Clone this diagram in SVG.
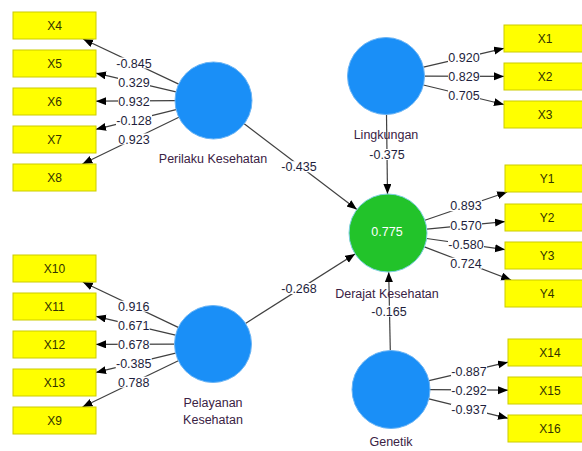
<svg xmlns="http://www.w3.org/2000/svg" width="582" height="451" viewBox="0 0 582 451">
<defs>
<marker id="ah" markerUnits="userSpaceOnUse" markerWidth="11" markerHeight="9" refX="10" refY="4" orient="auto">
<path d="M0,0 L10,4 L0,8 Z" fill="#000"/>
</marker>
<style>
.ln{stroke:#404040;stroke-width:1.2;fill:none;marker-end:url(#ah)}
.box{fill:#ffff00;stroke:#cccc00;stroke-width:1}
.bt{font-family:"Liberation Sans",Arial,sans-serif;font-size:12px;fill:#333300;text-anchor:middle}
.lat{fill:#1a8ff7;stroke:#6ab4f5;stroke-width:1}
.end{fill:#22c32a;stroke:#7ccfe0;stroke-width:1}
.lbl{font-family:"Liberation Sans",Arial,sans-serif;font-size:12.5px;fill:#3a2244;text-anchor:middle}
.num{font-family:"Liberation Sans",Arial,sans-serif;font-size:12.5px;fill:#1e1e3c;text-anchor:middle}
.bg{fill:#ffffff}
</style>
</defs>
<rect width="582" height="451" fill="#ffffff"/>

<g id="connectors">
<line class="ln" x1="178.7" y1="84.1" x2="83.1" y2="39"/>
<line class="ln" x1="176.0" y1="91.8" x2="96" y2="73.2"/>
<line class="ln" x1="175" y1="100.7" x2="96" y2="101.2"/>
<line class="ln" x1="176.1" y1="109.7" x2="96" y2="129.3"/>
<line class="ln" x1="178.9" y1="117.3" x2="82.4" y2="164"/>
<line class="ln" x1="178.2" y1="327.4" x2="82.8" y2="282"/>
<line class="ln" x1="175.5" y1="335.1" x2="96" y2="316.3"/>
<line class="ln" x1="174.5" y1="344.1" x2="96" y2="344.4"/>
<line class="ln" x1="175.6" y1="353.1" x2="96" y2="372.4"/>
<line class="ln" x1="178.3" y1="360.7" x2="82.5" y2="407"/>
<line class="ln" x1="423.5" y1="67.2" x2="504" y2="48.3"/>
<line class="ln" x1="424.5" y1="76.1" x2="504" y2="76.4"/>
<line class="ln" x1="423.4" y1="85.0" x2="504" y2="104.5"/>
<line class="ln" x1="424.9" y1="220.3" x2="507.2" y2="192"/>
<line class="ln" x1="426.8" y1="229.2" x2="505" y2="221.6"/>
<line class="ln" x1="426.6" y1="238.5" x2="505" y2="249.6"/>
<line class="ln" x1="424.4" y1="246.9" x2="511.1" y2="280"/>
<line class="ln" x1="429" y1="380.6" x2="508" y2="362.2"/>
<line class="ln" x1="430" y1="389.7" x2="508" y2="390.2"/>
<line class="ln" x1="428.9" y1="398.8" x2="508" y2="418.3"/>
<line class="ln" x1="244.2" y1="123.8" x2="356.9" y2="209.4"/>
<line class="ln" x1="245.5" y1="323.4" x2="355.1" y2="253.9"/>
<line class="ln" x1="386.5" y1="114.5" x2="387.5" y2="194"/>
<line class="ln" x1="390.3" y1="350.5" x2="388.7" y2="272"/>
<g id="weights">
<rect class="bg" x="116" y="57.5" width="36" height="11"/><text class="num" x="134" y="67.5">-0.845</text>
<rect class="bg" x="118" y="76.5" width="32" height="11"/><text class="num" x="134" y="86.5">0.329</text>
<rect class="bg" x="118" y="95.5" width="32" height="11"/><text class="num" x="134" y="105.5">0.932</text>
<rect class="bg" x="116" y="114.5" width="36" height="11"/><text class="num" x="134" y="124.5">-0.128</text>
<rect class="bg" x="118" y="133.5" width="32" height="11"/><text class="num" x="134" y="143.5">0.923</text>
<rect class="bg" x="117.7" y="300.7" width="32" height="11"/><text class="num" x="133.7" y="310.7">0.916</text>
<rect class="bg" x="117.7" y="319.7" width="32" height="11"/><text class="num" x="133.7" y="329.7">0.671</text>
<rect class="bg" x="117.7" y="338.7" width="32" height="11"/><text class="num" x="133.7" y="348.7">0.678</text>
<rect class="bg" x="115.7" y="357.7" width="36" height="11"/><text class="num" x="133.7" y="367.7">-0.385</text>
<rect class="bg" x="117.7" y="376.7" width="32" height="11"/><text class="num" x="133.7" y="386.7">0.788</text>
<rect class="bg" x="448" y="51.7" width="32" height="11"/><text class="num" x="464" y="61.7">0.920</text>
<rect class="bg" x="448" y="70.7" width="32" height="11"/><text class="num" x="464" y="80.7">0.829</text>
<rect class="bg" x="448" y="89.7" width="32" height="11"/><text class="num" x="464" y="99.7">0.705</text>
<rect class="bg" x="450" y="200.2" width="32" height="11"/><text class="num" x="466" y="210.2">0.893</text>
<rect class="bg" x="450" y="219.7" width="32" height="11"/><text class="num" x="466" y="229.7">0.570</text>
<rect class="bg" x="448" y="238.7" width="36" height="11"/><text class="num" x="466" y="248.7">-0.580</text>
<rect class="bg" x="450" y="257.7" width="32" height="11"/><text class="num" x="466" y="267.7">0.724</text>
<rect class="bg" x="451" y="365.5" width="36" height="11"/><text class="num" x="469" y="375.5">-0.887</text>
<rect class="bg" x="451" y="384.5" width="36" height="11"/><text class="num" x="469" y="394.5">-0.292</text>
<rect class="bg" x="451" y="403.5" width="36" height="11"/><text class="num" x="469" y="413.5">-0.937</text>
<rect class="bg" x="281" y="161.2" width="36" height="11"/><text class="num" x="299" y="171.2">-0.435</text>
<rect class="bg" x="281" y="283" width="36" height="11"/><text class="num" x="299" y="293">-0.268</text>
<rect class="bg" x="369" y="149" width="36" height="11"/><text class="num" x="387" y="159">-0.375</text>
<rect class="bg" x="371" y="305.7" width="36" height="11"/><text class="num" x="389" y="315.7">-0.165</text>
</g>
</g>

<g id="X4"><rect class="box" x="13" y="12" width="83" height="27"/><text class="bt" x="54.5" y="30">X4</text></g>
<g id="X5"><rect class="box" x="13" y="50" width="83" height="27"/><text class="bt" x="54.5" y="68">X5</text></g>
<g id="X6"><rect class="box" x="13" y="88" width="83" height="27"/><text class="bt" x="54.5" y="106">X6</text></g>
<g id="X7"><rect class="box" x="13" y="126" width="83" height="27"/><text class="bt" x="54.5" y="144">X7</text></g>
<g id="X8"><rect class="box" x="13" y="164" width="83" height="27"/><text class="bt" x="54.5" y="182">X8</text></g>
<g id="X10"><rect class="box" x="13" y="255" width="83" height="27"/><text class="bt" x="54.5" y="273">X10</text></g>
<g id="X11"><rect class="box" x="13" y="293" width="83" height="27"/><text class="bt" x="54.5" y="311">X11</text></g>
<g id="X12"><rect class="box" x="13" y="331" width="83" height="27"/><text class="bt" x="54.5" y="349">X12</text></g>
<g id="X13"><rect class="box" x="13" y="369" width="83" height="27"/><text class="bt" x="54.5" y="387">X13</text></g>
<g id="X9"><rect class="box" x="13" y="407" width="83" height="27"/><text class="bt" x="54.5" y="425">X9</text></g>
<g id="X1"><rect class="box" x="504" y="25" width="83" height="27"/><text class="bt" x="545" y="43">X1</text></g>
<g id="X2"><rect class="box" x="504" y="63" width="83" height="27"/><text class="bt" x="545" y="81">X2</text></g>
<g id="X3"><rect class="box" x="504" y="101" width="83" height="27"/><text class="bt" x="545" y="119">X3</text></g>
<g id="Y1"><rect class="box" x="505" y="165" width="83" height="27"/><text class="bt" x="547" y="183">Y1</text></g>
<g id="Y2"><rect class="box" x="505" y="204" width="83" height="27"/><text class="bt" x="547" y="222">Y2</text></g>
<g id="Y3"><rect class="box" x="505" y="242" width="83" height="27"/><text class="bt" x="547" y="260">Y3</text></g>
<g id="Y4"><rect class="box" x="505" y="280" width="83" height="27"/><text class="bt" x="547" y="298">Y4</text></g>
<g id="X14"><rect class="box" x="508" y="339" width="83" height="27"/><text class="bt" x="550" y="357">X14</text></g>
<g id="X15"><rect class="box" x="508" y="377" width="83" height="27"/><text class="bt" x="550" y="395">X15</text></g>
<g id="X16"><rect class="box" x="508" y="415" width="83" height="27"/><text class="bt" x="550" y="433">X16</text></g>

<g id="PerilakuKesehatan"><circle class="lat" cx="213.5" cy="100.5" r="38.5"/><text class="lbl" x="213" y="163">Perilaku Kesehatan</text></g>
<g id="PelayananKesehatan"><circle class="lat" cx="213" cy="344" r="38.5"/><text class="lbl" x="213" y="407">Pelayanan</text><text class="lbl" x="213" y="424">Kesehatan</text></g>
<g id="Lingkungan"><circle class="lat" cx="386" cy="76" r="38.5"/><text class="lbl" x="386" y="139">Lingkungan</text></g>
<g id="DerajatKesehatan"><circle class="end" cx="388" cy="233" r="39"/><text x="387" y="235.5" style="font-family:'Liberation Sans',Arial,sans-serif;font-size:12.5px;fill:#ffffff;text-anchor:middle">0.775</text><text class="lbl" x="387" y="298">Derajat Kesehatan</text></g>
<g id="Genetik"><circle class="lat" cx="391" cy="389.5" r="39"/><text class="lbl" x="391" y="446">Genetik</text></g>
</svg>
